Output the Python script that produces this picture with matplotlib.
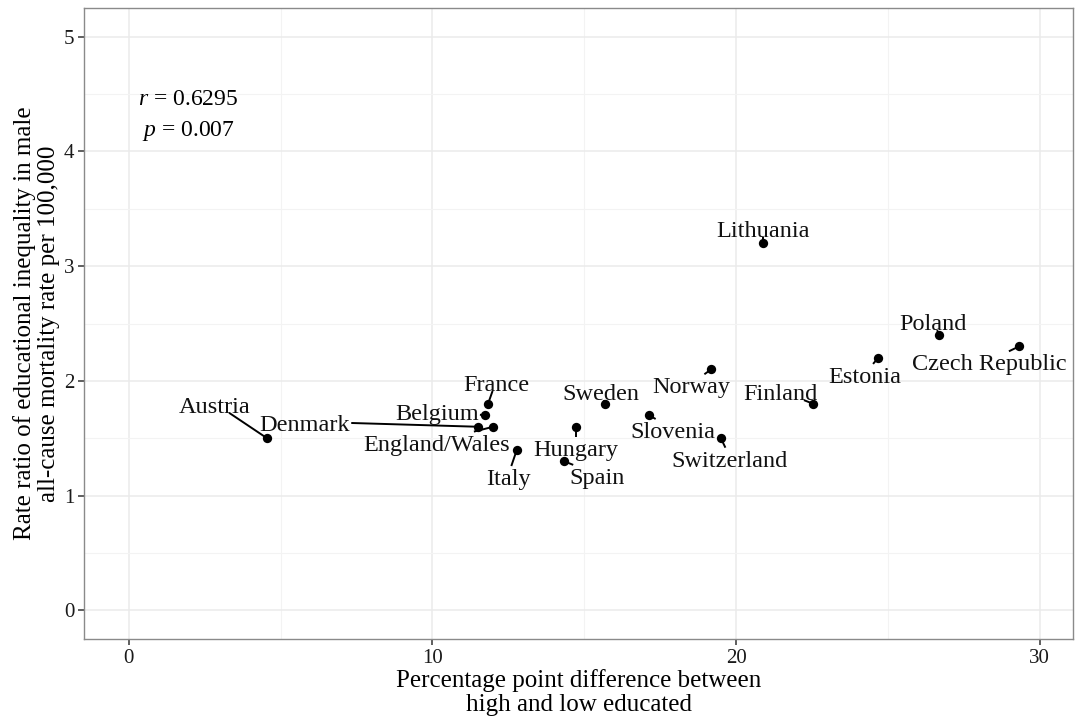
import matplotlib
matplotlib.use("Agg")
import matplotlib.pyplot as plt

# ---- data ----
countries = ["Austria", "Denmark", "Belgium", "France", "England/Wales", "Italy",
             "Hungary", "Spain", "Sweden", "Slovenia", "Norway", "Switzerland",
             "Finland", "Estonia", "Poland", "Czech Republic", "Lithuania"]
pp_diff = [4.55, 11.5, 11.73, 11.83, 12.0, 12.78,
           14.73, 14.33, 15.68, 17.13, 19.18, 19.5,
           22.54, 24.68, 26.69, 29.32, 20.89]
rate_ratio = [1.5, 1.6, 1.7, 1.8, 1.6, 1.4,
              1.6, 1.3, 1.8, 1.7, 2.1, 1.5,
              1.8, 2.2, 2.4, 2.3, 3.2]
# label placement (repelled label positions)
label_x = [2.83, 5.80, 10.15, 12.09, 10.12, 12.49,
           14.73, 15.42, 15.55, 17.92, 18.52, 19.80,
           21.45, 24.25, 26.49, 28.34, 20.89]
label_y = [1.77, 1.61, 1.71, 1.96, 1.44, 1.14,
           1.39, 1.15, 1.88, 1.55, 1.94, 1.30,
           1.88, 2.03, 2.49, 2.14, 3.30]
x_ticks = [0, 10, 20, 30]
y_ticks = [0, 1, 2, 3, 4, 5]
r_value = "0.6295"
p_value = "0.007"

plt.rcParams["font.family"] = ["Liberation Serif", "DejaVu Serif"]
plt.rcParams["mathtext.fontset"] = "custom"
plt.rcParams["mathtext.it"] = "Liberation Serif:italic"
plt.rcParams["mathtext.rm"] = "Liberation Serif"

fig = plt.figure(figsize=(10.76, 7.21), dpi=100)
ax = fig.add_axes([84 / 1076, 1 - 639 / 721, (1073 - 84) / 1076, (639 - 8) / 721])

ax.set_xlim(-1.48, 31.1)
ax.set_ylim(-0.25, 5.25)
ax.set_xticks(x_ticks)
ax.set_yticks(y_ticks)
ax.set_xticks([5, 15, 25], minor=True)
ax.set_yticks([0.5, 1.5, 2.5, 3.5, 4.5], minor=True)
ax.grid(True, which="major", color="#ebebeb", linewidth=1.1)
ax.grid(True, which="minor", color="#f3f3f3", linewidth=0.8)
ax.set_axisbelow(True)
ax.tick_params(which="minor", length=0)
ax.tick_params(which="major", length=4, width=1.1, color="#333333",
               labelsize=15, labelcolor="#1a1a1a", pad=3)
for s in ax.spines.values():
    s.set_color("#8a8a8a")
    s.set_linewidth(1.0)

ax.scatter(pp_diff, rate_ratio, s=45, color="black", zorder=3, linewidths=0)

texts = []
for name, lx, ly in zip(countries, label_x, label_y):
    texts.append(ax.text(lx, ly, name, ha="center", va="center",
                         fontsize=17.5, color="#111111", zorder=4))

ax.text(1.95, 4.45, "$r$ = " + r_value, fontsize=17, ha="center", va="center")
ax.text(1.95, 4.18, "$p$ = " + p_value, fontsize=17, ha="center", va="center")

ax.set_xlabel("Percentage point difference between\nhigh and low educated",
              fontsize=18, linespacing=1.12, labelpad=1)
ax.set_ylabel("Rate ratio of educational inequality in male\nall-cause mortality rate per 100,000",
              fontsize=18, linespacing=1.08, labelpad=3)

# leader segments from the label box edge to the point (ggrepel style)
fig.canvas.draw()
renderer = fig.canvas.get_renderer()
inv = ax.transData.inverted()
for t, x, y in zip(texts, pp_diff, rate_ratio):
    bb = t.get_window_extent(renderer)
    x0, x1 = bb.x0 - 1, bb.x1 + 1
    y0, y1 = bb.y0 + 5, bb.y1 + 3
    cx, cy = (x0 + x1) / 2, (y0 + y1) / 2
    px, py = ax.transData.transform((x, y))
    if x0 <= px <= x1 and y0 <= py <= y1:
        continue
    dx, dy = px - cx, py - cy
    ts = []
    if dx != 0:
        ts.append(((x1 if dx > 0 else x0) - cx) / dx)
    if dy != 0:
        ts.append(((y1 if dy > 0 else y0) - cy) / dy)
    tt = min(v for v in ts if v >= 0)
    sx, sy = cx + tt * dx, cy + tt * dy
    seg_len = ((px - sx) ** 2 + (py - sy) ** 2) ** 0.5
    if seg_len < 2:
        continue
    (dsx, dsy) = inv.transform((sx, sy))
    ax.plot([dsx, x], [dsy, y], color="black", lw=1.4, zorder=2.5,
            solid_capstyle="butt")

fig.savefig("out.png", dpi=100)
